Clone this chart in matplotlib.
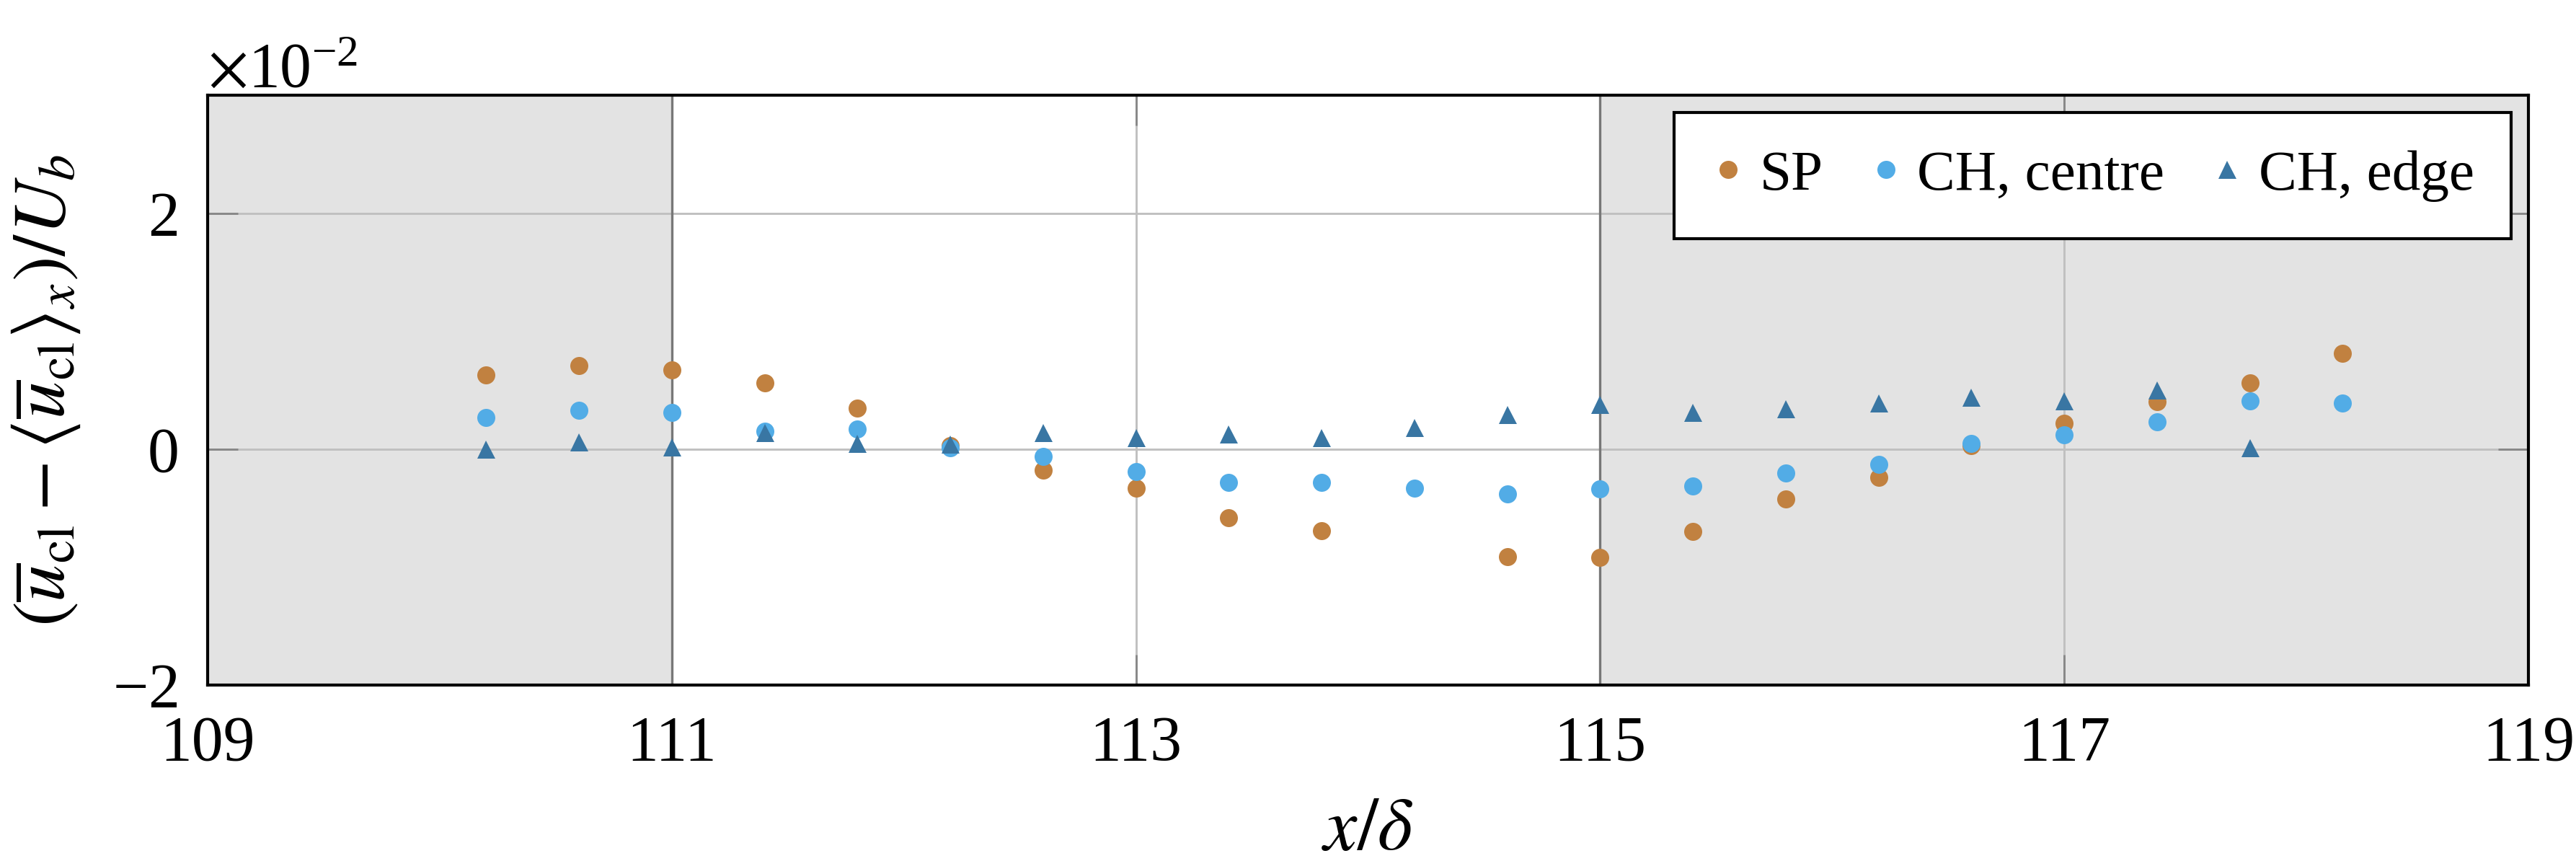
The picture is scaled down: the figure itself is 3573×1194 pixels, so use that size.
import matplotlib.pyplot as plt
import numpy as np
from matplotlib.ticker import ScalarFormatter

# Fuente tipo Times para todo el gráfico
plt.rcParams['font.family'] = ['Liberation Serif', 'STIXGeneral', 'DejaVu Serif']
plt.rcParams['mathtext.fontset'] = 'stix'

# Datos (valores en unidades de 1e-2)
x_sp = [110.2, 110.6, 111.0, 111.4, 111.8, 112.2, 112.6, 113.0, 113.4, 113.8,
        114.6, 115.0, 115.4, 115.8, 116.2, 116.6, 117.0, 117.4, 117.8, 118.2]
sp = [0.63, 0.71, 0.67, 0.56, 0.35, 0.03, -0.18, -0.33, -0.58, -0.69,
      -0.91, -0.92, -0.70, -0.42, -0.24, 0.03, 0.22, 0.40, 0.56, 0.81]

x_centre = [110.2, 110.6, 111.0, 111.4, 111.8, 112.2, 112.6, 113.0, 113.4, 113.8,
            114.2, 114.6, 115.0, 115.4, 115.8, 116.2, 116.6, 117.0, 117.4, 117.8, 118.2]
centre = [0.27, 0.33, 0.31, 0.15, 0.17, 0.01, -0.06, -0.19, -0.28, -0.28,
          -0.33, -0.38, -0.34, -0.31, -0.20, -0.13, 0.05, 0.12, 0.23, 0.41, 0.39]

x_edge = [110.2, 110.6, 111.0, 111.4, 111.8, 112.2, 112.6, 113.0, 113.4, 113.8,
          114.2, 114.6, 115.0, 115.4, 115.8, 116.2, 116.6, 117.0, 117.4, 117.8]
edge = [0.00, 0.06, 0.02, 0.14, 0.05, 0.04, 0.14, 0.10, 0.13, 0.10,
        0.18, 0.29, 0.38, 0.31, 0.34, 0.39, 0.44, 0.41, 0.50, 0.01]

escala = 1e-2

fig = plt.figure(figsize=(3573 / 300, 1194 / 300), dpi=300)
ax = fig.add_axes([0.0806, 0.2043, 0.9009, 0.6851])

# Zonas sombreadas
ax.axvspan(109, 111, color='#e3e3e3', zorder=0.1, lw=0)
ax.axvspan(115, 119, color='#e3e3e3', zorder=0.1, lw=0)
ax.axvline(111, color='#777777', lw=0.8, zorder=0.6)
ax.axvline(115, color='#777777', lw=0.8, zorder=0.6)

ax.plot(x_sp, np.array(sp) * escala, 'o', color='#c18140', ms=6, mew=0, label='SP', zorder=3)
ax.plot(x_centre, np.array(centre) * escala, 'o', color='#52ace6', ms=6, mew=0,
        label='CH, centre', zorder=3)
ax.plot(x_edge, np.array(edge) * escala, '^', color='#3976a3', ms=6, mew=0,
        label='CH, edge', zorder=3)

ax.set_xlim(109, 119)
ax.set_ylim(-0.02, 0.03)
ax.set_xticks([109, 111, 113, 115, 117, 119])
ax.set_yticks([-0.02, 0, 0.02])

sf = ScalarFormatter(useMathText=True)
sf.set_powerlimits((0, 0))
ax.yaxis.set_major_formatter(sf)
ax.yaxis.get_offset_text().set_fontsize(21)

ax.grid(True, color='#c0c0c0', lw=0.7, zorder=0.5)
ax.set_axisbelow(True)
ax.tick_params(direction='in', length=10, width=0.7, color='#888888',
               top=True, right=True, labelsize=21, pad=10)
for s in ax.spines.values():
    s.set_linewidth(1.0)
    s.set_zorder(4)

ax.set_xlabel(r'$x/\delta$', fontsize=25, labelpad=8)
ax.set_ylabel(r'$(\overline{u}_\mathrm{cl} - \langle\overline{u}_\mathrm{cl}\rangle_x)/U_b$',
              fontsize=25, labelpad=10)

leg = ax.legend(loc='upper right', ncol=3, frameon=True, fancybox=False,
                edgecolor='black', framealpha=1, handlelength=0.6,
                handletextpad=0.25, columnspacing=0.8, borderpad=0.65,
                fontsize=19, borderaxespad=0.3)
leg.get_frame().set_linewidth(1.0)
leg.set_zorder(5)

fig.savefig('out.png', dpi=300)
plt.close(fig)
